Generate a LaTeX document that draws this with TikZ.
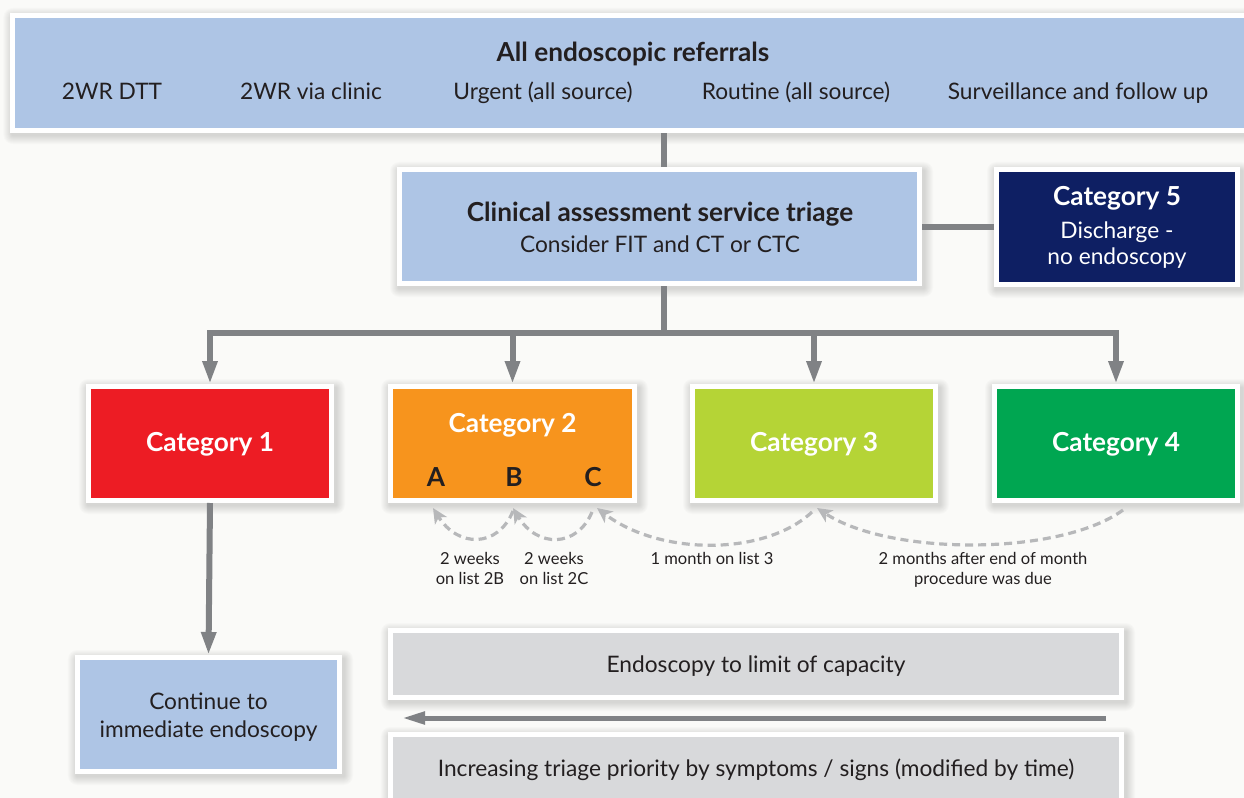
\documentclass[tikz,border=0pt]{standalone}
\usepackage{fontspec}
\setmainfont{Lato}
\usetikzlibrary{arrows.meta,calc}
\pgfdeclarelayer{shadowlayer}
\pgfsetlayers{shadowlayer,main}
\definecolor{bg}{RGB}{250,250,248}
\definecolor{lblue}{RGB}{174,197,229}
\definecolor{navy}{RGB}{14,31,99}
\definecolor{cred}{RGB}{237,28,36}
\definecolor{corange}{RGB}{247,148,29}
\definecolor{clime}{RGB}{181,212,54}
\definecolor{cgreen}{RGB}{0,166,81}
\definecolor{lgray}{RGB}{216,217,219}
\definecolor{conn}{RGB}{128,130,133}
\definecolor{dashc}{RGB}{183,184,186}
\definecolor{txt}{RGB}{35,31,32}
\tikzset{
  box/.style={draw=white, line width=5bp, inner sep=0pt, align=center, text=txt},
  shadowpiece/.style={fill=black, fill opacity=0.016, draw=none},
  reg/.style={font=\fontsize{22.8}{28}\selectfont, text=txt, inner sep=0pt, anchor=base},
  bld/.style={font=\bfseries\fontsize{26.3}{30}\selectfont, inner sep=0pt, anchor=base},
  small/.style={font=\fontsize{16.6}{20}\selectfont, text=txt, inner sep=0pt, anchor=base},
  connline/.style={draw=conn, line width=6bp},
  connarrow/.style={draw=conn, line width=6bp, -{Triangle[length=23bp,width=14bp]}},
  dasharrow/.style={draw=dashc, line width=3.2bp, dash pattern=on 8bp off 5bp,
    -{Stealth[length=15bp,width=14bp,inset=4bp]}},
}
\begin{document}
\begin{tikzpicture}[x=1bp,y=-1bp]
\useasboundingbox (0,0) rectangle (1244,798);
\begin{pgfonlayer}{shadowlayer}
\fill[bg] (0,0) rectangle (1244,798);
\end{pgfonlayer}
\clip (0,0) rectangle (1244,798);

% boxes
\node[box, fill=lblue, minimum width=1242bp, minimum height=115bp] (top) at (634,73) {};
\node[box, fill=lblue, minimum width=520bp, minimum height=114bp] (clin) at (659.5,226.5) {};
\node[box, fill=navy, minimum width=241bp, minimum height=115bp] (cat5) at (1117,227) {};
\node[box, fill=cred, minimum width=243bp, minimum height=114bp] (cat1) at (210,443.5) {};
\node[box, fill=corange, minimum width=244bp, minimum height=114bp] (cat2) at (512.5,443.5) {};
\node[box, fill=clime, minimum width=243bp, minimum height=114bp] (cat3) at (814,443.5) {};
\node[box, fill=cgreen, minimum width=243bp, minimum height=114bp] (cat4) at (1116,443.5) {};
\node[box, fill=lblue, minimum width=262bp, minimum height=114bp] (cont) at (208.5,714.5) {};
\node[box, fill=lgray, minimum width=731bp, minimum height=67bp] (endo) at (756,664) {};
\node[box, fill=lgray, minimum width=731bp, minimum height=90bp] (incr) at (756,779.5) {};

% soft shadows
\begin{pgfonlayer}{shadowlayer}
\foreach \n in {top,clin,cat5,cat1,cat2,cat3,cat4,cont,endo,incr}{
  \foreach \i in {1,...,9}{
    \fill[shadowpiece, rounded corners=\i bp]
      ($(\n.south west)+(-\i+2,\i+2)$) rectangle ($(\n.north east)+(\i+2,-\i+4)$);
  }
}
\end{pgfonlayer}

% texts
\node[bld, text=txt] (t0) at (633,62) {All endoscopic referrals};
\node[reg] (t1) at (112,100) {2WR DTT};
\node[reg] (t2) at (311,100) {2WR via clinic};
\node[reg] (t3) at (543,100) {Urgent (all source)};
\node[reg] (t4) at (796,100) {Routine (all source)};
\node[reg] (t5) at (1078,100) {Surveillance and follow up};

\node[bld, text=txt] (c1) at (660,221) {Clinical assessment service triage};
\node[reg] (c2) at (660,252) {Consider FIT and CT or CTC};

\node[bld, text=white] (k5) at (1117,205) {Category 5};
\node[reg, text=white] (k5a) at (1117,238.3) {Discharge -};
\node[reg, text=white] (k5b) at (1117,264.3) {no endoscopy};

\node[bld, text=white] (k1) at (210,451.7) {Category 1};
\node[bld, text=white] (k2) at (512.5,432.7) {Category 2};
\node[bld, text=txt] (ka) at (436,486) {A};
\node[bld, text=txt] (kb) at (514,486) {B};
\node[bld, text=txt] (kc) at (593,486) {C};
\node[bld, text=white] (k3) at (814,451.7) {Category 3};
\node[bld, text=white] (k4) at (1116,451.7) {Category 4};

\node[reg] (n1) at (208.5,709.3) {Continue to};
\node[reg] (n2) at (208.5,737.3) {immediate endoscopy};

\node[reg] (e1) at (756,672.3) {Endoscopy to limit of capacity};
\node[reg] (i1) at (756,776.7) {Increasing triage priority by symptoms / signs (modified by time)};

\node[small] (l1) at (470,564) {2 weeks};
\node[small] (l2) at (470,584) {on list 2B};
\node[small] (l3) at (554,564) {2 weeks};
\node[small] (l4) at (554,584) {on list 2C};
\node[small] (l5) at (712,564) {1 month on list 3};
\node[small] (l6) at (983,564) {2 months after end of month};
\node[small] (l7) at (983,584) {procedure was due};

% connectors
\coordinate (jx) at (664,332.5);
\draw[connline] (jx |- top.south) -- (jx |- clin.north);
\draw[connline] (jx |- clin.south) -- (jx);
\draw[connline, line cap=rect] (cat1.north |- jx) -- (cat4.north |- jx);
\draw[connarrow] (cat1.north |- jx) -- (cat1.north);
\draw[connarrow] (cat2.north |- jx) -- (cat2.north);
\draw[connarrow] (cat3.north |- jx) -- (cat3.north);
\draw[connarrow] (cat4.north |- jx) -- (cat4.north);
\draw[connline] (clin.east |- cat5.west) -- (cat5.west);
\draw[connarrow] (cat1.south) -- (cont.north);

\coordinate (pr) at (1106,718);
\coordinate (pl) at (402,718);
\draw[draw=conn, line width=5bp, -{Triangle[length=23bp,width=12bp]}] (pr) -- (pl);

% dashed curves
\coordinate (dB) at (513,511);
\coordinate (dA) at (433,508);
\coordinate (dC) at (592,512);
\coordinate (dB2) at (513,508);
\coordinate (d3) at (812,512);
\coordinate (dC2) at (597,508);
\coordinate (d4) at (1123,510);
\coordinate (d32) at (817,508);
\draw[dasharrow] (dB) .. controls (498,548) and (458,548) .. (dA);
\draw[dasharrow] (dC) .. controls (577,548) and (537,548) .. (dB2);
\draw[dasharrow] (d3) .. controls (765,556) and (660,556) .. (dC2);
\draw[dasharrow] (d4) .. controls (1060,556) and (890,556) .. (d32);
\end{tikzpicture}
\end{document}
